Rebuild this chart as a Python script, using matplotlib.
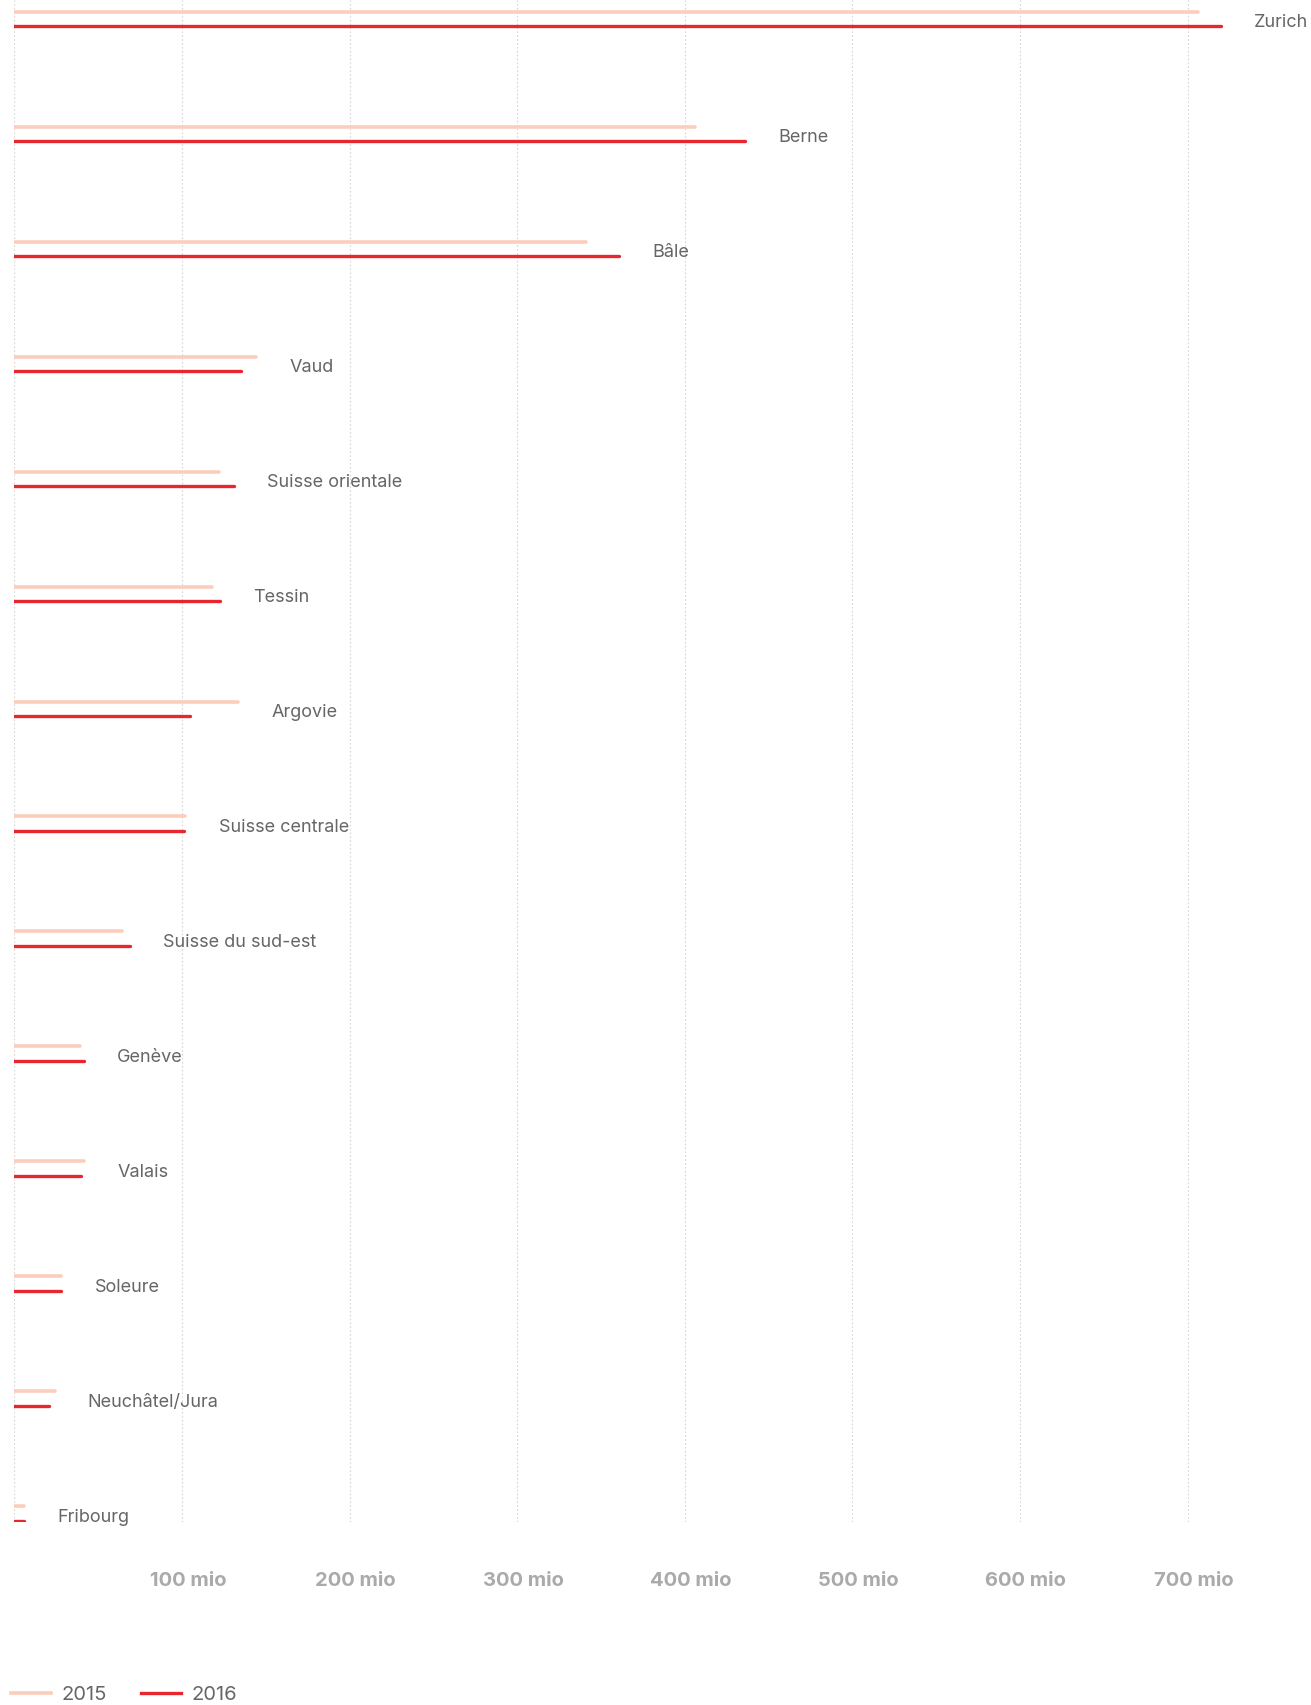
import matplotlib
matplotlib.use("Agg")
import matplotlib.pyplot as plt
from matplotlib.lines import Line2D
from matplotlib.transforms import ScaledTranslation

plt.rcParams['font.family'] = ['Inter', 'DejaVu Sans']

regions = ["Zurich", "Berne", "Bâle", "Vaud", "Suisse orientale", "Tessin", "Argovie",
           "Suisse centrale", "Suisse du sud-est", "Genève", "Valais", "Soleure",
           "Neuchâtel/Jura", "Fribourg"]
v2015 = [706, 406, 341, 144.5, 122, 118, 133.5, 102, 64, 39, 41.5, 28, 24, 6]
v2016 = [720, 436, 361, 135, 131, 122.5, 105, 101, 69, 41.5, 40, 28, 21, 6]
ticks = [100, 200, 300, 400, 500, 600, 700]
tick_labels = ["100 mio", "200 mio", "300 mio", "400 mio", "500 mio", "600 mio", "700 mio"]
series_names = ["2015", "2016"]

W, H = 1311, 1705
fig = plt.figure(figsize=(W / 100, H / 100), dpi=100)
left_px, right_px = 14.3, W
top_px, bottom_px = 0, 1522
ax = fig.add_axes([left_px / W, (H - bottom_px) / H, (right_px - left_px) / W, (bottom_px - top_px) / H])

c15 = "#fccdbb"
c16 = "#e8262d"
row_px = 114.97
first_px = 26.3
off = -14.6 / row_px
ax.set_xlim(0, (right_px - left_px) / 1.676)
ax.set_ylim(13 + (bottom_px - (first_px + 13 * row_px)) / row_px, -first_px / row_px)

for i, (name, a, b) in enumerate(zip(regions, v2015, v2016)):
    ax.plot([0, a], [i + off, i + off], color=c15, lw=2.6, solid_capstyle='round', zorder=3)
    ax.plot([0, b], [i, i], color=c16, lw=2.4, solid_capstyle='round', zorder=4)
    ax.annotate(name, xy=(max(a, b), i - 3.5 / row_px), xytext=(24, 0), textcoords='offset points',
                va='center', ha='left', fontsize=13, color='#666666')

for t in [0] + ticks:
    ax.axvline(t, color='#d6d6d6', lw=0.8, ls=(0, (1.5, 2)), zorder=1)

ax.set_xticks(ticks)
ax.set_xticklabels(tick_labels, fontsize=14.5, color='#aaaaaa', fontweight='bold')
ax.tick_params(axis='x', length=0, pad=36)
shift = ScaledTranslation(6 / 100, 0, fig.dpi_scale_trans)
for lab in ax.get_xticklabels():
    lab.set_transform(lab.get_transform() + shift)
ax.set_yticks([])
for s in ax.spines.values():
    s.set_visible(False)

handles = [Line2D([], [], color=c15, lw=2.6), Line2D([], [], color=c16, lw=2.4)]
leg = fig.legend(handles, series_names, loc='center left', bbox_to_anchor=(3 / W, 1 - 1695 / H),
                 ncol=2, frameon=False, fontsize=14.5, handlelength=2.0, columnspacing=1.7,
                 handletextpad=0.5, labelcolor='#666666', borderaxespad=0)

fig.savefig("out.png", dpi=100)
